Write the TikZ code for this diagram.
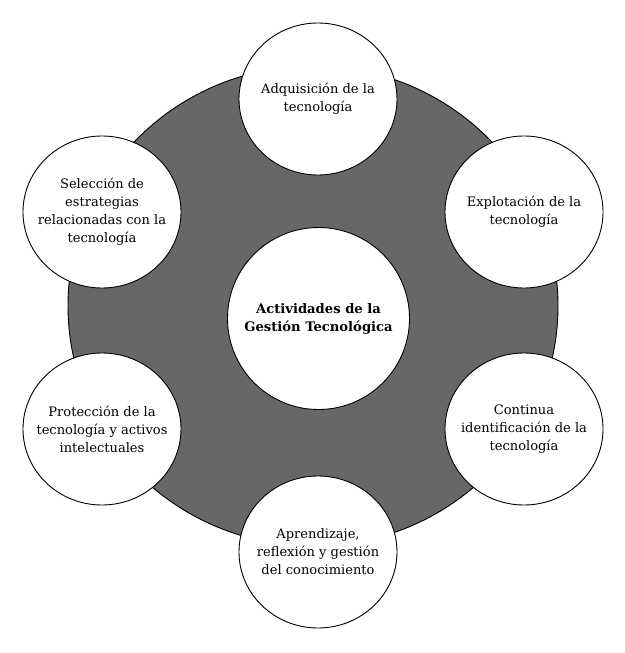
\documentclass[tikz,border=0pt]{standalone}
\usepackage{fontspec}
\setmainfont{DejaVu Serif}
\usetikzlibrary{shapes.geometric}
\definecolor{ringgray}{RGB}{103,103,103}
\begin{document}
\begin{tikzpicture}[x=1bp,y=-1bp,
  bubble/.style={ellipse, draw=black, line width=0.9bp, fill=white,
    minimum width=158bp, minimum height=152bp, inner sep=0pt},
  hub/.style={bubble, minimum width=182bp, minimum height=182bp},
  label/.style={align=center, inner sep=0pt, font=\fontsize{13.1}{18}\selectfont},
  hublabel/.style={align=center, inner sep=0pt, font=\bfseries\fontsize{13.2}{18}\selectfont},
  ringstyle/.style={ellipse, draw=black, line width=0.9bp, fill=ringgray,
    minimum width=490bp, minimum height=480bp, inner sep=0pt}]
\useasboundingbox (0,0) rectangle (625,653);
\node[ringstyle] (ring) at (313,306) {};
\node[hub] (center) at (318.5,318.5) {};
\node[hublabel] (centert) at (center) {Actividades de la\\Gestión Tecnológica};
\node[bubble] (adq) at (318,99) {};
\node[label] (adqt) at (adq) {Adquisición de la\\tecnología};
\node[bubble] (exp) at (524,212) {};
\node[label] (expt) at (exp) {Explotación de la\\tecnología};
\node[bubble] (con) at (524,429) {};
\node[label] (cont) at (con) {Continua\\identificación de la\\tecnología};
\node[bubble] (apr) at (318,552) {};
\node[label] (aprt) at (apr) {Aprendizaje,\\reflexión y gestión\\del conocimiento};
\node[bubble] (pro) at (102,429) {};
\node[label] (prot) at (pro) {Protección de la\\tecnología y activos\\intelectuales};
\node[bubble] (sel) at (102,212) {};
\node[label] (selt) at (sel) {Selección de\\estrategias\\relacionadas con la\\tecnología};
\end{tikzpicture}
\end{document}
